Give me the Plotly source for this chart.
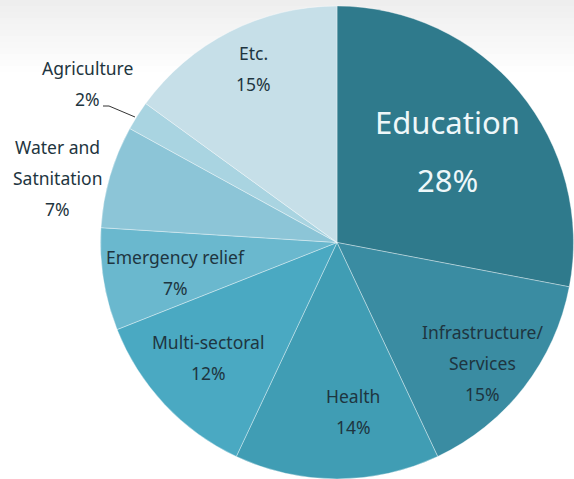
import plotly.graph_objects as go

# Share of aid by sector (percent), clockwise from 12 o'clock
sectors = ["Education", "Infrastructure/\nServices", "Health", "Multi-sectoral",
           "Emergency relief", "Water and\nSatnitation", "Agriculture", "Etc."]
shares = [28, 15, 14, 12, 7, 7, 2, 15]
colors = ["#2f7a8c", "#3a8ca2", "#409db4", "#4aa9c2",
          "#6ab8ce", "#8cc5d7", "#a9d4e1", "#c6dfe8"]

# Text anchor per sector: centre x and y of the first text line (pixels from top-left)
label_px = [447, 482, 353, 208, 175, 57, 87, 253]
label_py = [122, 332, 396, 342, 257, 147, 68, 53]

W, H = 574, 479
fig = go.Figure()
fig.add_trace(go.Pie(
    labels=[s.replace("\n", " ") for s in sectors],
    values=shares,
    sort=False,
    direction="clockwise",
    rotation=0,
    marker=dict(colors=colors, line=dict(color="rgba(255,255,255,0.45)", width=0.8)),
    textinfo="none",
    hoverinfo="label+percent",
    showlegend=False,
    domain=dict(x=[100 / W, 1.0], y=[0.0, 473 / H]),
))

font_family = "Noto Sans, Open Sans, sans-serif"
annotations = []
for name, v, px, py in zip(sectors, shares, label_px, label_py):
    big = name == "Education"
    step = 58 if big else 31
    lines = name.split("\n") + [f"{v}%"]
    for k, line in enumerate(lines):
        annotations.append(dict(
            x=px / W, y=1 - (py + k * step) / H, xref="paper", yref="paper",
            text=line, showarrow=False,
            xanchor="center", yanchor="middle",
            font=dict(family=font_family,
                      size=31 if big else 17.5,
                      color="#eef7f9" if big else "#1e3540"),
        ))

# light gray haze fading down from the top edge
shapes = []
n_bands = 12
for i in range(n_bands):
    op = 0.065 * (1 - i / n_bands)
    shapes.append(dict(type="rect", xref="paper", yref="paper",
                       x0=0, x1=1, y0=1 - (i + 1) * 6 / H, y1=1 - i * 6 / H,
                       fillcolor=f"rgba(0,0,0,{op:.4f})", line_width=0, layer="below"))
# leader line for the small Agriculture slice
shapes.append(dict(type="path", xref="paper", yref="paper",
                   path=f"M {103 / W},{1 - 106 / H} L {109 / W},{1 - 106 / H} "
                        f"L {135 / W},{1 - 117 / H}",
                   line=dict(color="#333333", width=1)))

fig.update_layout(
    width=W, height=H,
    margin=dict(l=0, r=0, t=0, b=0),
    paper_bgcolor="white",
    plot_bgcolor="white",
    annotations=annotations,
    shapes=shapes,
)

fig.write_html("out.html")
